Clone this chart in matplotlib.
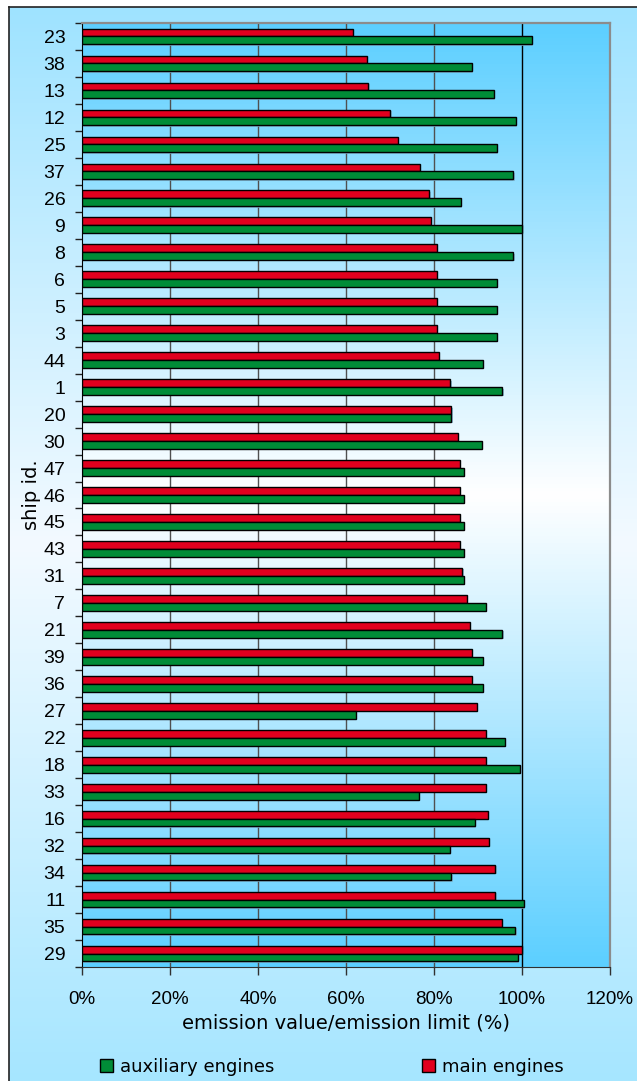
import numpy as np
import matplotlib.pyplot as plt
from matplotlib.colors import LinearSegmentedColormap
from matplotlib import patheffects as pe

# valores (de arriba hacia abajo)
ship_ids = ['23', '38', '13', '12', '25', '37', '26', '9', '8', '6', '5', '3',
            '44', '1', '20', '30', '47', '46', '45', '43', '31', '7', '21',
            '39', '36', '27', '22', '18', '33', '16', '32', '34', '11', '35', '29']
main_engines = [61.5, 64.7, 65.1, 70.1, 71.8, 76.8, 78.9, 79.3, 80.7, 80.7, 80.7, 80.7,
                81.1, 83.7, 83.9, 85.4, 85.8, 85.8, 85.8, 85.8, 86.4, 87.5, 88.2,
                88.6, 88.6, 89.7, 91.8, 91.8, 91.8, 92.2, 92.5, 93.9, 93.9, 95.4, 99.9]
aux_engines = [102.2, 88.6, 93.6, 98.6, 94.3, 98.0, 86.1, 99.9, 98.0, 94.3, 94.3, 94.3,
               91.1, 95.5, 83.9, 90.9, 86.8, 86.8, 86.8, 86.8, 86.8, 91.8, 95.5,
               91.1, 91.1, 62.2, 96.1, 99.6, 76.5, 89.3, 83.6, 83.9, 100.4, 98.5, 99.0]
x_ticks = [0, 20, 40, 60, 80, 100, 120]

plt.rcParams['font.family'] = ['DejaVu Sans']
num_font = ['Liberation Sans', 'DejaVu Sans']

W, H = 637, 1081
fig = plt.figure(figsize=(W / 100, H / 100), dpi=100)

# fondo del area del grafico
bg = fig.add_axes([9 / W, 0, 1 - 9 / W, 1 - 7 / H], zorder=-2)
cm_out = LinearSegmentedColormap.from_list('out', ['#9fe3ff', '#f3faff', '#a6e6ff'])
bg.imshow(np.linspace(0, 1, 256).reshape(-1, 1), cmap=cm_out, aspect='auto',
          extent=[0, 1, 0, 1], origin='upper')
bg.set_xlim(0, 1)
bg.set_ylim(0, 1)
bg.set_xticks([])
bg.set_yticks([])
for s in ['right', 'bottom']:
    bg.spines[s].set_visible(False)
for s in ['left', 'top']:
    bg.spines[s].set_color('#222222')
    bg.spines[s].set_linewidth(1.2)

# area de trazado
ax = fig.add_axes([82 / W, 1 - 967 / H, (610 - 82) / W, (967 - 23) / H])
cm_in = LinearSegmentedColormap.from_list('in', ['#5ccfff', '#ffffff', '#5ccfff'])
ax.imshow(np.linspace(0, 1, 256).reshape(-1, 1), cmap=cm_in, aspect='auto',
          extent=[0, 1, 0, 1], origin='upper', transform=ax.transAxes, zorder=0)

n = len(ship_ids)
y = np.arange(n)
h = 0.29
sombra = [pe.SimplePatchShadow(offset=(1, -1), shadow_rgbFace='#7fb3cc', alpha=0.8), pe.Normal()]
b_main = ax.barh(y - h / 2, main_engines, height=h, color='#e1001e', edgecolor='black',
                 linewidth=1, label='main engines', zorder=3)
b_aux = ax.barh(y + h / 2, aux_engines, height=h, color='#008c37', edgecolor='black',
                linewidth=1, label='auxiliary engines', zorder=3)
for b in list(b_main) + list(b_aux):
    b.set_path_effects(sombra)

for v in x_ticks[1:-2]:
    ax.axvline(v, color='#505050', lw=1, zorder=1)
ax.axvline(100, color='black', lw=1, zorder=1)

ax.set_xlim(0, 120)
ax.set_ylim(n - 0.5, -0.5)

ax.set_xticks(x_ticks)
ax.set_xticklabels([f'{v}%' for v in x_ticks], family=num_font, fontsize=13.5)
ax.tick_params(axis='x', length=6, width=1, color='#303030', pad=11)

ax.set_yticks(np.arange(n + 1) - 0.5)
ax.set_yticklabels([])
ax.set_yticks(y, minor=True)
ax.set_yticklabels(ship_ids, minor=True, family=num_font, fontsize=14)
ax.tick_params(axis='y', which='major', length=5, width=1, color='#202020')
ax.tick_params(axis='y', which='minor', length=0, pad=12)

ax.spines['left'].set_color('black')
ax.spines['bottom'].set_color('#303030')
for s in ['top', 'right']:
    ax.spines[s].set_color('#8c8c8c')
    ax.spines[s].set_linewidth(1.6)

ax.set_xlabel('emission value/emission limit (%)', fontsize=14, labelpad=4)
ax.set_ylabel('ship id.', fontsize=14)
ax.yaxis.set_label_coords(-0.078, 0.5)

fig.legend(handles=[b_aux, b_main], labels=['auxiliary engines', 'main engines'],
           ncol=2, loc='center', bbox_to_anchor=(332 / W, 1 - 1067 / H), frameon=False,
           fontsize=13, handlelength=0.7, handleheight=0.7, handletextpad=0.4,
           columnspacing=8.2)

fig.savefig('out.png', dpi=100)
